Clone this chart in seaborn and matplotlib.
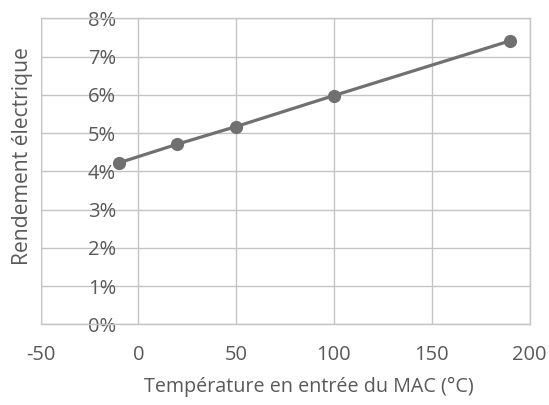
import matplotlib
matplotlib.use("Agg")
import matplotlib.pyplot as plt
import seaborn as sns
import pandas as pd
from matplotlib.ticker import FuncFormatter, MultipleLocator

temperature = [-10, 20, 50, 100, 190]
rendement = [0.0422, 0.0471, 0.0517, 0.0598, 0.0741]
x_label = "Température en entrée du MAC (°C)"
y_label = "Rendement électrique"

df = pd.DataFrame({"T": temperature, "R": rendement})

sns.set_theme(style="white")
plt.rcParams['font.family'] = ['Open Sans', 'DejaVu Sans']
plt.rcParams['axes.unicode_minus'] = False

text_color = "#595959"
grid_color = "#c4c4c4"
line_color = "#707070"

W, H = 549, 405
fig = plt.figure(figsize=(W / 100, H / 100), dpi=100)
left, right, bottom, top = 40.5, 529.5, 324.3, 18.3
ax = fig.add_axes([left / W, (H - bottom) / H, (right - left) / W, (bottom - top) / H])

sns.lineplot(data=df, x="T", y="R", ax=ax, color=line_color, linewidth=2.3,
             marker="o", markersize=9.5, markeredgewidth=0, markerfacecolor=line_color, zorder=3)

ax.set_xlim(-50, 200)
ax.set_ylim(0, 0.08)
ax.xaxis.set_major_locator(MultipleLocator(50))
ax.yaxis.set_major_locator(MultipleLocator(0.01))
ax.yaxis.set_major_formatter(FuncFormatter(lambda v, p: f"{v*100:.0f}%"))
ax.grid(True, color=grid_color, linewidth=1.0)
for s in ["top", "right", "bottom"]:
    ax.spines[s].set_color(grid_color)
    ax.spines[s].set_linewidth(1.0)
ax.spines["left"].set_position(("data", 0))
ax.spines["left"].set_visible(False)
ax.axvline(-50, color=grid_color, linewidth=1.0, zorder=0.5)

ax.tick_params(axis="both", length=0, labelsize=14.5, colors=text_color)
ax.tick_params(axis="y", pad=16)
ax.tick_params(axis="x", pad=15)

ax.set_xlabel("")
ax.set_ylabel("")
fig.text(309 / W, (H - 387) / H, x_label, fontsize=14.2, color=text_color,
         ha="center", va="center")
fig.text(23 / W, (H - 156.5) / H, y_label, rotation=90, fontsize=15.2, color=text_color,
         ha="center", va="center")

fig.savefig("out.png", dpi=100)
